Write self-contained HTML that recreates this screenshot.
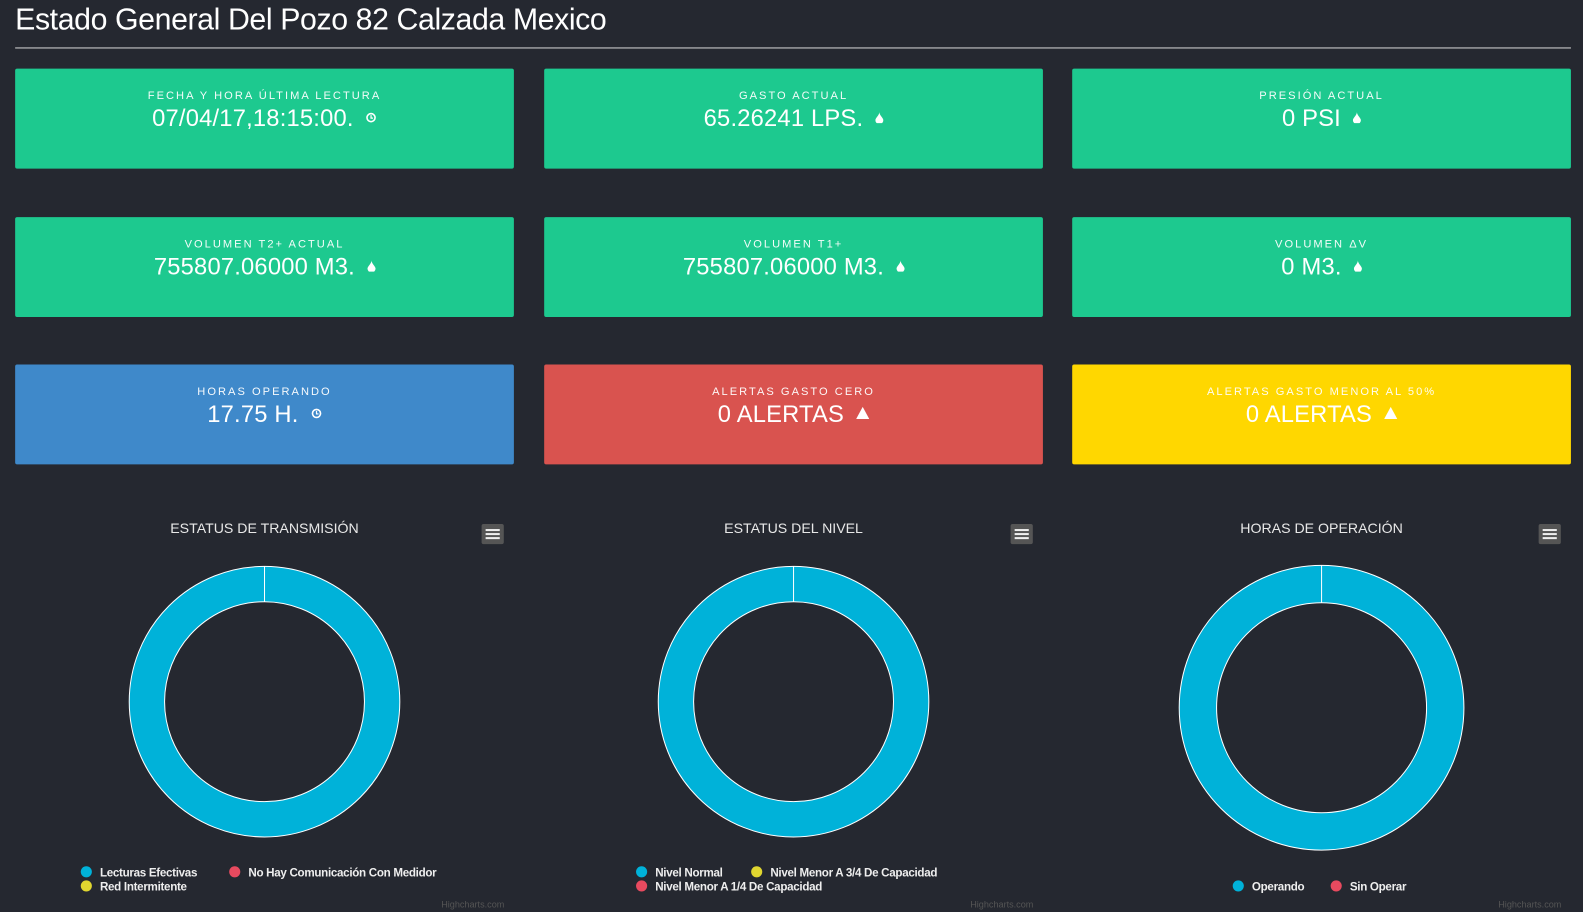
<!DOCTYPE html>
<html><head><meta charset="utf-8">
<style>
html,body{margin:0;padding:0;width:1583px;height:912px;background:#252830;overflow:hidden;font-family:"Liberation Sans",sans-serif;color:#fff}
#w{position:absolute;left:0;top:0;width:1568px;height:903px;transform:scale(1.0096);transform-origin:0 0}
.title{position:absolute;left:15px;top:3px;font-size:30px;font-weight:300;letter-spacing:-0.4px;color:#fff}
.hr{position:absolute;left:15px;top:47px;width:1541px;height:1px;background:#d8d8d8}
.card{position:absolute;width:494px;height:99px;border-radius:2px;text-align:center}
.card .l{margin-top:21px;font-size:11px;letter-spacing:2px;opacity:.95}
.card .v{font-size:23.5px;margin-top:3px;letter-spacing:0.2px}
.card .i{display:inline-block;margin-left:12px;vertical-align:3px}
.g{background:#1dc98f}.b{background:#3f89ca}.r{background:#d9534f}.y{background:#ffd700}
.ct{position:absolute;font-size:14px;color:#e8e8e8;text-align:center;width:300px}
.menu{position:absolute;width:22px;height:20px;background:#555;border-radius:2px}
.menu i{position:absolute;left:4px;width:14px;height:2px;background:#eee}
.lg{position:absolute;font-size:11.5px;font-weight:bold;color:#eee;white-space:nowrap;letter-spacing:-0.3px}
.dot{display:inline-block;width:11px;height:11px;border-radius:50%;margin-right:8px;vertical-align:-1px}
.hc{position:absolute;font-size:9px;color:#555}
</style></head><body><div id="w">
<div class="title">Estado General Del Pozo 82 Calzada Mexico</div>
<div class="hr"></div>

<div class="card g" style="left:15px;top:68px"><div class="l">FECHA Y HORA ÚLTIMA LECTURA</div><div class="v">07/04/17,18:15:00.<svg class="i" width="11" height="11"><circle cx="5.5" cy="5.5" r="4" fill="none" stroke="#fff" stroke-width="1.6"/><path d="M5.5 3v3h2" stroke="#fff" fill="none" stroke-width="1.2"/></svg></div></div>
<div class="card g" style="left:539px;top:68px"><div class="l">GASTO ACTUAL</div><div class="v">65.26241 LPS.<svg class="i" width="8" height="11"><path d="M4 0 C4 3 8 6 8 8 A4 4 0 0 1 0 8 C0 6 4 3 4 0Z" fill="#fff"/></svg></div></div>
<div class="card g" style="left:1062px;top:68px"><div class="l">PRESIÓN ACTUAL</div><div class="v">0 PSI<svg class="i" width="8" height="11"><path d="M4 0 C4 3 8 6 8 8 A4 4 0 0 1 0 8 C0 6 4 3 4 0Z" fill="#fff"/></svg></div></div>

<div class="card g" style="left:15px;top:215px"><div class="l">VOLUMEN T2+ ACTUAL</div><div class="v">755807.06000 M3.<svg class="i" width="8" height="11"><path d="M4 0 C4 3 8 6 8 8 A4 4 0 0 1 0 8 C0 6 4 3 4 0Z" fill="#fff"/></svg></div></div>
<div class="card g" style="left:539px;top:215px"><div class="l">VOLUMEN T1+</div><div class="v">755807.06000 M3.<svg class="i" width="8" height="11"><path d="M4 0 C4 3 8 6 8 8 A4 4 0 0 1 0 8 C0 6 4 3 4 0Z" fill="#fff"/></svg></div></div>
<div class="card g" style="left:1062px;top:215px"><div class="l">VOLUMEN ΔV</div><div class="v">0 M3.<svg class="i" width="8" height="11"><path d="M4 0 C4 3 8 6 8 8 A4 4 0 0 1 0 8 C0 6 4 3 4 0Z" fill="#fff"/></svg></div></div>

<div class="card b" style="left:15px;top:361px"><div class="l">HORAS OPERANDO</div><div class="v">17.75 H.<svg class="i" width="11" height="11"><circle cx="5.5" cy="5.5" r="4" fill="none" stroke="#fff" stroke-width="1.6"/><path d="M5.5 3v3h2" stroke="#fff" fill="none" stroke-width="1.2"/></svg></div></div>
<div class="card r" style="left:539px;top:361px"><div class="l">ALERTAS GASTO CERO</div><div class="v">0 ALERTAS<svg class="i" width="13" height="12"><path d="M6.5 0 L13 12 L0 12Z" fill="#fff"/></svg></div></div>
<div class="card y" style="left:1062px;top:361px"><div class="l">ALERTAS GASTO MENOR AL 50%</div><div class="v">0 ALERTAS<svg class="i" width="13" height="12"><path d="M6.5 0 L13 12 L0 12Z" fill="#fff"/></svg></div></div>

<div class="ct" style="left:112px;top:515px">ESTATUS DE TRANSMISIÓN</div>
<div class="ct" style="left:636px;top:515px">ESTATUS DEL NIVEL</div>
<div class="ct" style="left:1159px;top:515px">HORAS DE OPERACIÓN</div>

<div class="menu" style="left:477px;top:519px"><i style="top:5px"></i><i style="top:9px"></i><i style="top:13px"></i></div>
<div class="menu" style="left:1001px;top:519px"><i style="top:5px"></i><i style="top:9px"></i><i style="top:13px"></i></div>
<div class="menu" style="left:1524px;top:519px"><i style="top:5px"></i><i style="top:9px"></i><i style="top:13px"></i></div>

<svg width="1568" height="903" style="position:absolute;left:0;top:0">
<g fill="none" stroke="#fff" stroke-width="1">
<circle cx="262" cy="695" r="116.5" stroke="#00b2d9" stroke-width="35" />
<circle cx="262" cy="695" r="134"/><circle cx="262" cy="695" r="99"/>
<line x1="262" y1="561" x2="262" y2="596"/>
<circle cx="786" cy="695" r="116.5" stroke="#00b2d9" stroke-width="35" />
<circle cx="786" cy="695" r="134"/><circle cx="786" cy="695" r="99"/>
<line x1="786" y1="561" x2="786" y2="596"/>
<circle cx="1309" cy="701" r="122.5" stroke="#00b2d9" stroke-width="37" />
<circle cx="1309" cy="701" r="141"/><circle cx="1309" cy="701" r="104"/>
<line x1="1309" y1="560" x2="1309" y2="597"/>
</g>
</svg>

<div class="lg" style="left:80px;top:858px"><span class="dot" style="background:#00b2d9"></span>Lecturas Efectivas</div>
<div class="lg" style="left:227px;top:858px"><span class="dot" style="background:#e84a5f"></span>No Hay Comunicación Con Medidor</div>
<div class="lg" style="left:80px;top:872px"><span class="dot" style="background:#e0d630"></span>Red Intermitente</div>
<div class="hc" style="left:437px;top:891px">Highcharts.com</div>

<div class="lg" style="left:630px;top:858px"><span class="dot" style="background:#00b2d9"></span>Nivel Normal</div>
<div class="lg" style="left:744px;top:858px"><span class="dot" style="background:#e0d630"></span>Nivel Menor A 3/4 De Capacidad</div>
<div class="lg" style="left:630px;top:872px"><span class="dot" style="background:#e84a5f"></span>Nivel Menor A 1/4 De Capacidad</div>
<div class="hc" style="left:961px;top:891px">Highcharts.com</div>

<div class="lg" style="left:1221px;top:872px"><span class="dot" style="background:#00b2d9"></span>Operando</div>
<div class="lg" style="left:1318px;top:872px"><span class="dot" style="background:#e84a5f"></span>Sin Operar</div>
<div class="hc" style="left:1484px;top:891px">Highcharts.com</div>
</div></body></html>
